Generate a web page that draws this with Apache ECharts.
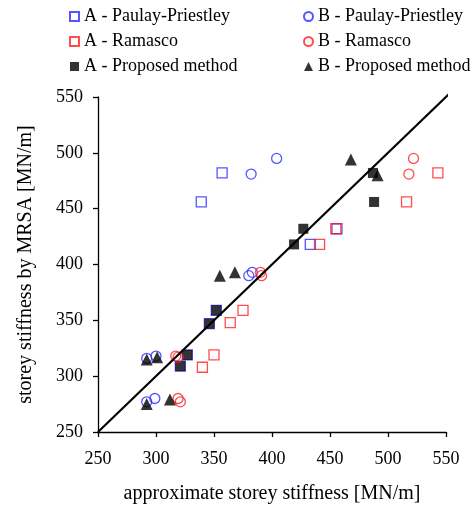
<!DOCTYPE html>
<html>
<head>
<meta charset="utf-8">
<script src="https://cdn.jsdelivr.net/npm/echarts@6/dist/echarts.min.js"></script>
<style>
  html, body { margin: 0; padding: 0; background: #fff; }
  #chart { width: 475px; height: 509px; }
</style>
</head>
<body>
<div id="chart"></div>
<script>
// points: [approximate, MRSA]
const aPaulay = [[357, 482], [339, 456], [456, 432], [433, 418], [352, 359], [346, 347], [327, 319], [321, 309]]
const aRamasco = [[543, 482], [516, 456], [455, 432], [441, 418], [375, 359], [364, 348], [350, 319], [340, 308]]
const aProposed = [[487, 482], [488, 456], [427, 432], [419, 418], [352, 359], [346, 347], [327, 319], [321, 309]]
const bPaulay = [[404, 495], [382, 481], [383, 393], [380, 390], [300, 318], [292, 316], [299, 280], [292, 277]]
const bRamasco = [[522, 495], [518, 481], [390, 393], [391, 390], [319, 317], [317, 318], [319, 280], [321, 277]]
const bProposed = [[468, 494], [491, 480], [368, 393], [355, 390], [301, 317], [292, 315], [312, 279], [292, 275]]
const equalLine = [[250, 250], [555, 555]]
const axisTicks = [250, 550, 50] // min, max, step

const FONT = 'Liberation Serif'
const BLUE = '#2a2aff'
const RED = '#ff2020'

const hollow = (name, data, symbol, color) => ({
  name, type: 'scatter', data, symbol, symbolSize: 10,
  itemStyle: { color: 'rgba(255,255,255,0)', borderColor: color, borderWidth: 1.3 }
})
const solid = (name, data, symbol, size) => ({
  name, type: 'scatter', data, symbol, symbolSize: size,
  itemStyle: { color: '#000' }
})

const legendBase = {
  orient: 'vertical', top: 7, padding: 0, itemWidth: 9, itemHeight: 9, itemGap: 6,
  textStyle: { fontFamily: FONT, fontSize: 18, color: '#000', lineHeight: 19 },
  selectedMode: false
}

const axisBase = {
  type: 'value', min: axisTicks[0], max: axisTicks[1], interval: axisTicks[2],
  splitLine: { show: false },
  axisLine: { show: true, lineStyle: { color: '#000', width: 1.3 } },
  axisTick: { show: true, length: 5, lineStyle: { color: '#000', width: 1.3 } },
  nameLocation: 'middle',
  nameTextStyle: { fontFamily: FONT, fontSize: 20, color: '#000' }
}

const chart = echarts.init(document.getElementById('chart'))
chart.setOption({
  animation: false,
  grid: { left: 98, right: 29, top: 97, bottom: 75 },
  legend: [
    Object.assign({ left: 69, data: ['A - Paulay-Priestley', 'A - Ramasco', 'A - Proposed method'] }, legendBase),
    Object.assign({ left: 303, data: ['B - Paulay-Priestley', 'B - Ramasco', 'B - Proposed method'] }, legendBase)
  ],
  xAxis: Object.assign({}, axisBase, {
    name: 'approximate storey stiffness [MN/m]', nameGap: 52,
    axisLabel: { fontFamily: FONT, fontSize: 18, color: '#000', margin: 18 }
  }),
  yAxis: Object.assign({}, axisBase, {
    name: 'storey stiffness by MRSA [MN/m]', nameGap: 62,
    axisLabel: { fontFamily: FONT, fontSize: 18, color: '#000', margin: 15 }
  }),
  series: [
    {
      type: 'line', data: equalLine, symbol: 'none', clip: false, silent: true,
      lineStyle: { color: '#000', width: 2.2 }
    },
    hollow('A - Paulay-Priestley', aPaulay, 'rect', BLUE),
    hollow('A - Ramasco', aRamasco, 'rect', RED),
    solid('A - Proposed method', aProposed, 'rect', 10),
    hollow('B - Paulay-Priestley', bPaulay, 'circle', BLUE),
    hollow('B - Ramasco', bRamasco, 'circle', RED),
    solid('B - Proposed method', bProposed, 'triangle', 12)
  ]
})
</script>
</body>
</html>
